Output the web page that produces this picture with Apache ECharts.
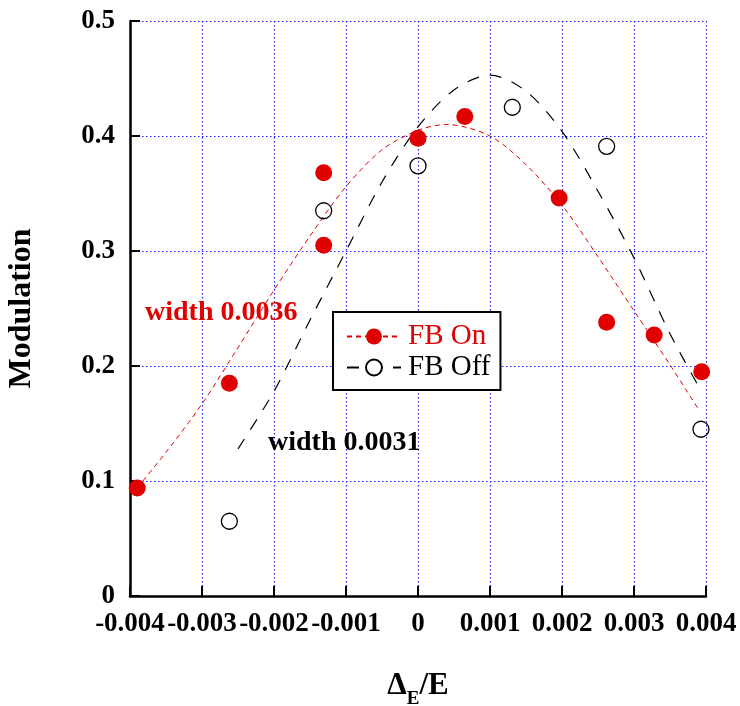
<!DOCTYPE html>
<html>
<head>
<meta charset="utf-8">
<script src="https://cdn.jsdelivr.net/npm/echarts@6/dist/echarts.min.js"></script>
<style>html,body{margin:0;padding:0;background:#fff}#chart{width:740px;height:706px}</style>
</head>
<body>
<div id="chart"></div>
<script>
// Measured points
const onX = [-0.0039, -0.00262, -0.00131, -0.00131, 0, 0.00065, 0.00196, 0.00262, 0.00328, 0.00394];
const onY = [0.094, 0.185, 0.368, 0.305, 0.398, 0.417, 0.346, 0.238, 0.227, 0.195];
const offX = [-0.00262, -0.00131, 0, 0.00131, 0.00262, 0.00393];
const offY = [0.065, 0.335, 0.374, 0.425, 0.391, 0.145];
// Fit curves
const fitOnX = [-0.0039, -0.0035, -0.003, -0.0025, -0.002, -0.0015, -0.001, -0.0005, 0, 0.0004, 0.001, 0.0015, 0.002, 0.0025, 0.003, 0.0035, 0.0039];
const fitOnY = [0.094, 0.125, 0.167, 0.216, 0.266, 0.313, 0.356, 0.388, 0.405, 0.410, 0.400, 0.375, 0.340, 0.295, 0.248, 0.201, 0.162];
const fitOffX = [-0.0025, -0.002, -0.0015, -0.001, -0.0005, 0, 0.0005, 0.001, 0.0015, 0.002, 0.0025, 0.003, 0.0035, 0.0039];
const fitOffY = [0.128, 0.178, 0.240, 0.300, 0.360, 0.408, 0.440, 0.453, 0.439, 0.404, 0.352, 0.294, 0.228, 0.182];
// Axis settings
const xTicks = { min: -0.004, max: 0.004, interval: 0.001 };
const yTicks = { min: 0, max: 0.5, interval: 0.1 };
const legendNames = ['FB On', 'FB Off'];
const noteOn = 'width 0.0036';
const noteOff = 'width 0.0031';

const RED = '#e00000';
const FONT = '"Liberation Serif", "Times New Roman", serif';
const zip = (a, b) => a.map((v, i) => [v, b[i]]);

const axisCommon = {
  type: 'value',
  axisLine: { show: true, onZero: false, lineStyle: { color: '#000', width: 2.5 } },
  axisTick: { show: true, inside: true, length: 10, lineStyle: { color: '#000', width: 2 } },
  splitLine: { show: true, lineStyle: { color: '#2020ff', width: 1.2, type: [1.5, 2.5] } },
  axisLabel: { color: '#000', fontFamily: FONT, fontWeight: 'bold', fontSize: 27, hideOverlap: false }
};

const chart = echarts.init(document.getElementById('chart'), null, { renderer: 'canvas' });
chart.setOption({
  animation: false,
  backgroundColor: '#fff',
  grid: { left: 130, right: 34, top: 21, bottom: 110, containLabel: false, outerBoundsMode: 'none' },
  xAxis: Object.assign({}, axisCommon, {
    min: xTicks.min, max: xTicks.max, interval: xTicks.interval,
    axisLabel: Object.assign({}, axisCommon.axisLabel, { fontSize: 27, margin: 15, showMinLabel: true, showMaxLabel: true,
      formatter: v => (Math.abs(v) < 1e-12 ? '0' : (+v.toFixed(3)).toString()) }),
    name: '{a|Δ}{s|E}{a|/E}',
    nameLocation: 'middle',
    nameGap: 66,
    nameTextStyle: {
      rich: {
        a: { fontFamily: FONT, fontWeight: 'bold', fontSize: 31, color: '#000' },
        s: { fontFamily: FONT, fontWeight: 'bold', fontSize: 19, color: '#000', padding: [28, 0, 0, 0] }
      }
    }
  }),
  yAxis: Object.assign({}, axisCommon, {
    min: yTicks.min, max: yTicks.max, interval: yTicks.interval,
    axisLabel: Object.assign({}, axisCommon.axisLabel, { margin: 15,
      formatter: v => (Math.abs(v) < 1e-12 ? '0' : (+v.toFixed(1)).toString()) }),
    name: 'Modulation',
    nameLocation: 'middle',
    nameGap: 92,
    nameTextStyle: { fontFamily: FONT, fontWeight: 'bold', fontSize: 32, color: '#000' }
  }),
  legend: {
    data: [
      { name: legendNames[0], textStyle: { color: RED } },
      { name: legendNames[1], textStyle: { color: '#000' } }
    ],
    orient: 'vertical',
    left: 333, top: 312,
    padding: [10, 10, 8, 13],
    itemGap: 2,
    itemWidth: 54, itemHeight: 20,
    borderColor: '#000', borderWidth: 2, borderRadius: 0,
    backgroundColor: '#fff',
    textStyle: { fontFamily: FONT, fontSize: 29, color: '#000', padding: [0, 0, 0, 2] },
    selectedMode: false
  },
  graphic: [
    { type: 'text', left: 145, top: 299, z: 100,
      style: { text: noteOn, font: 'bold 28px ' + FONT, fill: RED } },
    { type: 'text', left: 268, top: 429, z: 100,
      style: { text: noteOff, font: 'bold 28px ' + FONT, fill: '#000' } }
  ],
  series: [
    { name: legendNames[0], type: 'line', data: zip(fitOnX, fitOnY), smooth: 0.3,
      symbol: 'circle', showSymbol: false, symbolSize: 16,
      lineStyle: { color: RED, width: 1, type: [5, 4] },
      itemStyle: { color: RED }, z: 2 },
    { name: legendNames[1], type: 'line', data: zip(fitOffX, fitOffY), smooth: 0.3,
      symbol: 'circle', showSymbol: false, symbolSize: 16,
      lineStyle: { color: '#000', width: 1.2, type: [12, 11] },
      itemStyle: { color: '#fff', borderColor: '#000', borderWidth: 1.3 }, z: 2 },
    { name: 'FB On data', type: 'scatter', data: zip(onX, onY), symbol: 'circle', symbolSize: 17,
      itemStyle: { color: RED, opacity: 1 }, z: 3 },
    { name: 'FB Off data', type: 'scatter', data: zip(offX, offY), symbol: 'circle', symbolSize: 16,
      itemStyle: { color: 'rgba(0,0,0,0)', borderColor: '#000', borderWidth: 1.3, opacity: 1 }, z: 3 }
  ]
});
</script>
</body>
</html>
